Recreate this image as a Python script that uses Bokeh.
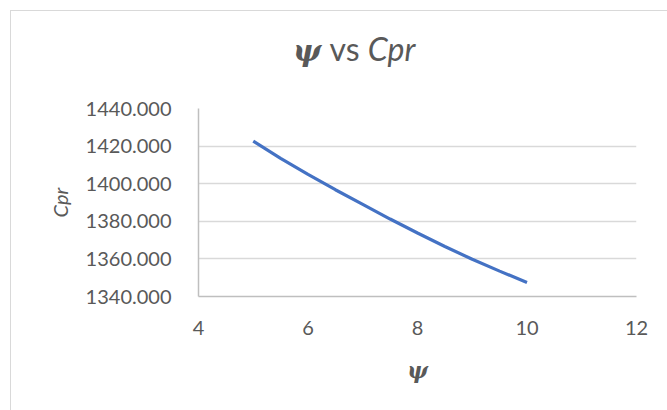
from bokeh.plotting import figure
from bokeh.embed import file_html
from bokeh.resources import INLINE
from bokeh.layouts import column
from bokeh.models import FixedTicker, PrintfTickFormatter, Div, Range1d

# Data
psi = [5, 5.5, 6, 6.5, 7, 7.5, 8, 8.5, 9, 9.5, 10]
cpr = [1422.6, 1413.5, 1405.0, 1396.8, 1389.0, 1381.2, 1373.8, 1366.6, 1359.8, 1353.5, 1347.5]
x_ticks = [4, 6, 8, 10, 12]
y_ticks = [1340, 1360, 1380, 1400, 1420, 1440]

TXT = "#595959"
FONT = "Lato"

title = Div(
    text=(
        '<div style="position:relative;width:656px;height:83px;">'
        '<span style="position:absolute;left:282px;top:22px;font-size:32px;line-height:1;'
        'color:#595959;white-space:nowrap;font-family:Lato;">'
        '<span style="font-family:\'DejaVu Serif\';font-weight:bold;font-style:italic;font-size:30px;">ψ</span>'
        ' vs <span style="font-style:italic;">Cpr</span></span></div>'
    ),
    width=656, height=83, margin=0,
)

p = figure(frame_width=438, frame_height=188,
           min_border_left=187, min_border_right=31,
           min_border_top=14, min_border_bottom=114,
           x_range=Range1d(4, 12), y_range=Range1d(1340, 1440),
           output_backend="svg", toolbar_location=None, margin=0)
p.outline_line_color = None
p.background_fill_color = "white"
p.border_fill_color = "white"

p.line(psi, cpr, line_color="#4472c4", line_width=3.2)

for ax in (p.xaxis, p.yaxis):
    ax.axis_line_color = "#bfbfbf"
    ax.axis_line_width = 1.5
    ax.major_tick_line_color = None
    ax.minor_tick_line_color = None
    ax.major_label_text_font = FONT
    ax.major_label_text_font_size = "20px"
    ax.major_label_text_color = TXT

p.xaxis.ticker = FixedTicker(ticks=x_ticks)
p.yaxis.ticker = FixedTicker(ticks=y_ticks)
p.yaxis.formatter = PrintfTickFormatter(format="%.3f")
p.xaxis.major_label_standoff = 18
p.yaxis.major_label_standoff = 21

p.xaxis.axis_label = "ψ"
p.xaxis.axis_label_text_font = "DejaVu Serif"
p.xaxis.axis_label_text_font_style = "bold italic"
p.xaxis.axis_label_text_font_size = "22px"
p.xaxis.axis_label_text_color = TXT
p.xaxis.axis_label_standoff = 19

p.yaxis.axis_label = "Cpr"
p.yaxis.axis_label_text_font = FONT
p.yaxis.axis_label_text_font_style = "italic"
p.yaxis.axis_label_text_font_size = "20px"
p.yaxis.axis_label_text_color = TXT
p.yaxis.axis_label_standoff = 11

p.xgrid.grid_line_color = None
p.ygrid.grid_line_color = "#d9d9d9"
p.ygrid.grid_line_width = 1.5

layout = column(title, p, spacing=0,
                styles={"border-left": "1px solid #d9d9d9",
                        "border-top": "1px solid #d9d9d9",
                        "margin": "10px 0 0 10px"})

open("out.html", "w").write(file_html(layout, INLINE))
